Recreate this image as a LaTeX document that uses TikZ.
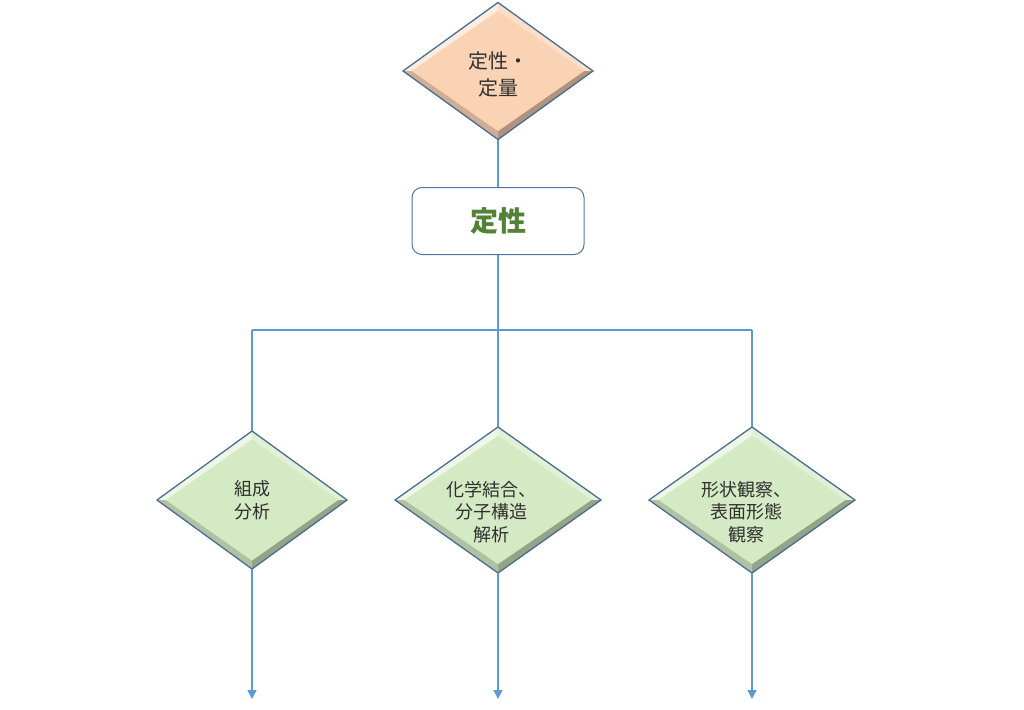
\documentclass[tikz,border=0pt]{standalone}
\usepackage{fontspec}
\newfontfamily\jp{Noto Sans CJK JP}
\usetikzlibrary{shapes.geometric,arrows.meta,calc}
\definecolor{peach}{HTML}{FAD2B4}
\definecolor{lgreen}{HTML}{D4EAC4}
\definecolor{edgeblue}{HTML}{4A6E92}
\definecolor{linkblue}{HTML}{5B9BD5}
\definecolor{dgreen}{HTML}{538135}
\definecolor{txt}{HTML}{303030}
\tikzset{
  bevel/.style={path picture={
    \coordinate (bT) at (path picture bounding box.north);
    \coordinate (bB) at (path picture bounding box.south);
    \coordinate (bL) at (path picture bounding box.west);
    \coordinate (bR) at (path picture bounding box.east);
    \coordinate (bC) at (path picture bounding box.center);
    \coordinate (bTi) at ($(bC)!0.88!(bT)$);
    \coordinate (bBi) at ($(bC)!0.88!(bB)$);
    \coordinate (bLi) at ($(bC)!0.91!(bL)$);
    \coordinate (bRi) at ($(bC)!0.91!(bR)$);
    \fill[white!60!#1] (bL) -- (bT) -- (bTi) -- (bLi) -- cycle;
    \fill[white!30!#1] (bT) -- (bR) -- (bRi) -- (bTi) -- cycle;
    \fill[black!30!#1] (bR) -- (bB) -- (bBi) -- (bRi) -- cycle;
    \fill[black!17!#1] (bB) -- (bL) -- (bLi) -- (bBi) -- cycle;
  }},
  diam/.style={diamond, draw=edgeblue, line width=1.3pt, fill=#1, bevel=#1,
    inner sep=0pt, outer sep=0pt},
  dtext/.style={align=center, text=txt, font=\jp\fontsize{18}{22.5}\selectfont},
  link/.style={draw=linkblue, line width=1.4pt},
  arrowlink/.style={link, -{Triangle[width=9pt,length=9pt]}},
  catbox/.style={draw=edgeblue!80!linkblue, line width=1pt, rounded corners=10pt,
    fill=white, minimum width=172pt, minimum height=67pt, inner sep=0pt,
    text=dgreen, font=\jp\bfseries\fontsize{28}{32}\selectfont}
}
\begin{document}
\begin{tikzpicture}[x=1pt,y=-1pt]
\useasboundingbox (0,0) rectangle (1024,709);
% top decision
\node[diam=peach, minimum width=190pt, minimum height=137pt,
  label={[dtext, font=\jp\fontsize{20}{27}\selectfont, yshift=-3pt]center:定性・\\定量}]
  (q) at (498,71) {};
% category box
\node[catbox] (b) at (498,221) {定性};
% junctions
\coordinate (j)  at (498,330);
\coordinate (jl) at (252,330);
\coordinate (jr) at (752,330);
% lower decisions
\node[diam=lgreen, minimum width=190pt, minimum height=138pt,
  label={[dtext]center:組成\\分析}] (d1) at (252,500) {};
\node[diam=lgreen, minimum width=206pt, minimum height=146pt,
  label={[dtext, xshift=-7pt, yshift=-12pt]center:化学結合、\\分子構造\\解析}] (d2) at (498,500) {};
\node[diam=lgreen, minimum width=206pt, minimum height=146pt,
  label={[dtext, xshift=-6pt, yshift=-12pt]center:形状観察、\\表面形態\\観察}] (d3) at (752,500) {};
% arrow ends
\coordinate (e1) at (252,699);
\coordinate (e2) at (498,699);
\coordinate (e3) at (752,699);
% connectors
\draw[link] (q.south) -- (b.north);
\draw[link] (b.south) -- (j);
\draw[link] (jl) -- (jr);
\draw[link] (jl) -- (d1.north);
\draw[link] (j) -- (d2.north);
\draw[link] (jr) -- (d3.north);
\draw[arrowlink] (d1.south) -- (e1);
\draw[arrowlink] (d2.south) -- (e2);
\draw[arrowlink] (d3.south) -- (e3);
\end{tikzpicture}
\end{document}
